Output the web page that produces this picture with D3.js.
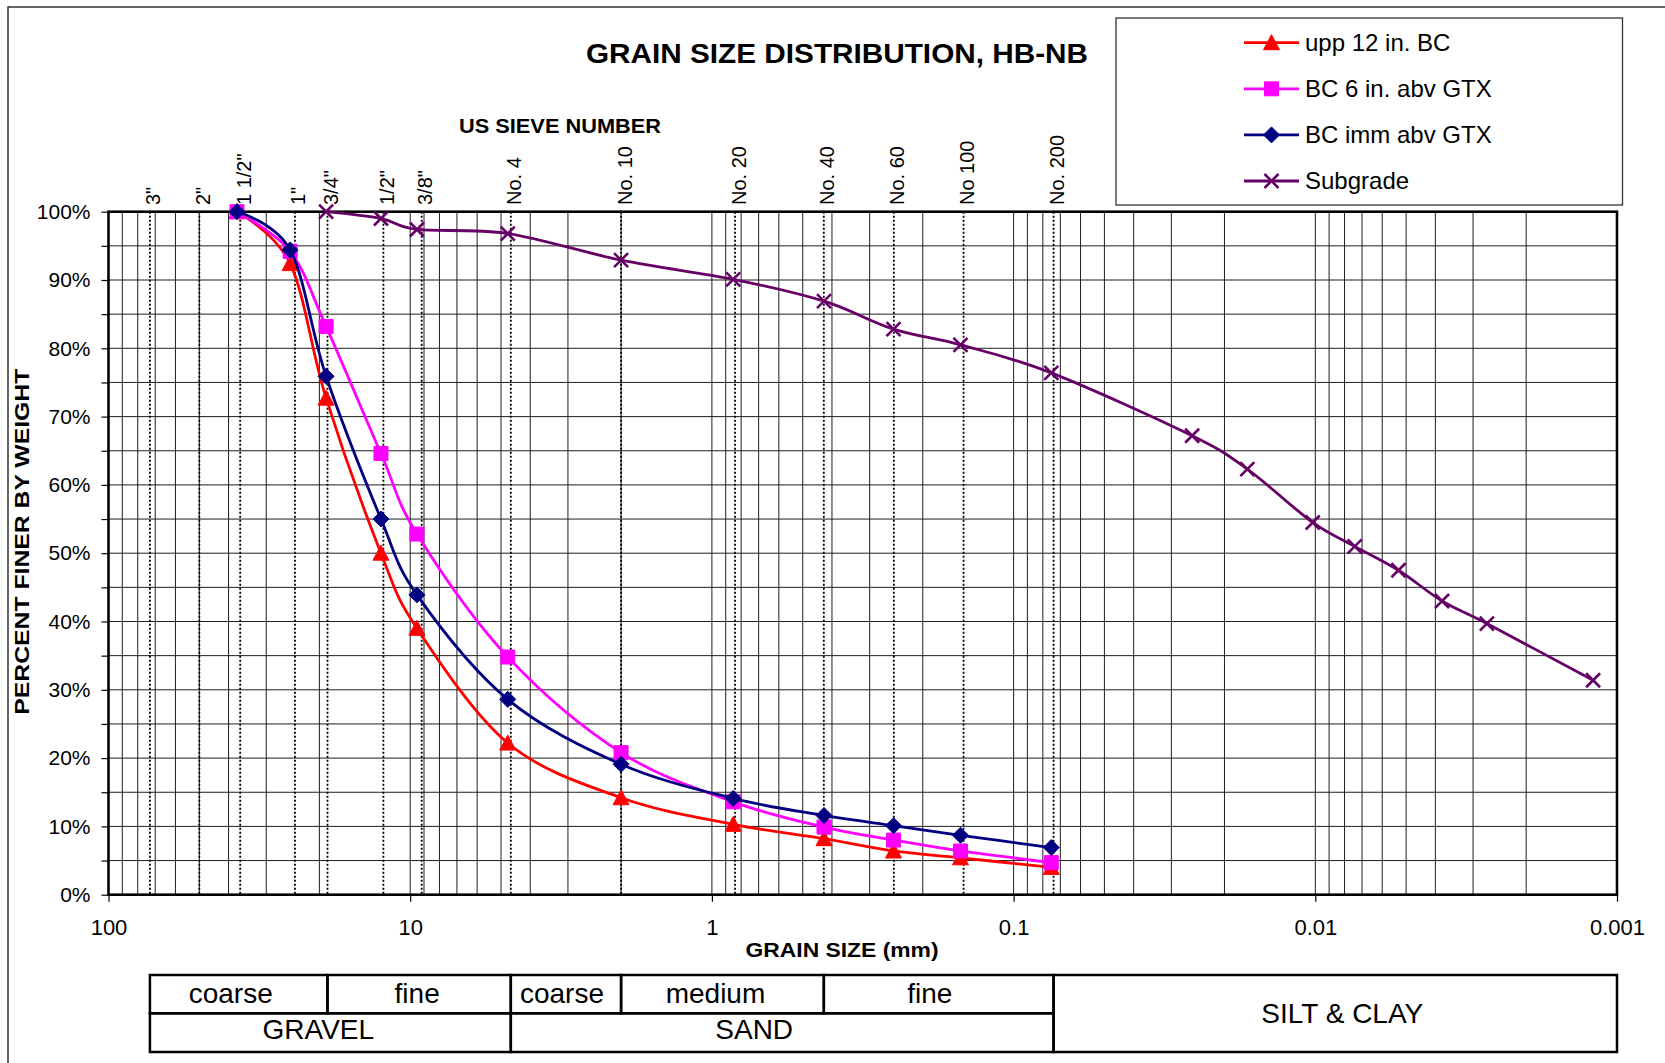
<!DOCTYPE html>
<html>
<head>
<meta charset="utf-8">
<script src="https://cdn.jsdelivr.net/npm/d3@7"></script>
<style>
  body { margin: 0; background: #fff; }
  svg { display: block; font-family: Arial, "Liberation Sans", sans-serif; }
</style>
</head>
<body>
<svg id="chart" width="1665" height="1063"></svg>
<script>
// ---- data -----------------------------------------------------------------
// sieve openings (mm) used for the base course samples
const sizesBC = [37.5, 25, 19, 12.5, 9.5, 4.75, 2.0, 0.85, 0.425, 0.25, 0.15, 0.075];
const upp12   = [100, 92.4, 72.7, 50.0, 39.0, 22.2, 14.2, 10.3, 8.2, 6.4, 5.4, 4.0];
const bc6     = [100, 94.2, 83.2, 64.6, 52.8, 34.8, 20.8, 13.6, 9.9, 8.0, 6.4, 4.7];
const bcImm   = [100, 94.4, 75.9, 55.0, 43.9, 28.6, 19.1, 14.1, 11.6, 10.1, 8.7, 6.9];

// subgrade: sieve analysis followed by hydrometer readings
const sizesSub = [19, 12.5, 9.5, 4.75, 2.0, 0.85, 0.425, 0.25, 0.15, 0.075,
                  0.0256, 0.0168, 0.0102, 0.0074, 0.0053, 0.0038, 0.0027, 0.0012];
const subgrade = [100, 99.0, 97.4, 96.8, 92.9, 90.1, 86.9, 82.8, 80.5, 76.4,
                  67.2, 62.3, 54.5, 51.0, 47.5, 43.0, 39.7, 31.4];

// US standard sieves marked along the top of the grid
const sieveLabels   = ['3"', '2"', '1 1/2"', '1"', '3/4"', '1/2"', '3/8"', 'No. 4', 'No. 10',
                       'No. 20', 'No. 40', 'No. 60', 'No 100', 'No. 200'];
const sieveOpenings = [72.9, 50, 36.6, 24.1, 18.8, 12.27, 9.16, 4.64, 2.0,
                       0.838, 0.4256, 0.2494, 0.1465, 0.0737];

const yTickValues = [0, 10, 20, 30, 40, 50, 60, 70, 80, 90, 100];
const xTickValues = [100, 10, 1, 0.1, 0.01, 0.001];
const xTickLabels = ['100', '10', '1', '0.1', '0.01', '0.001'];

// soil classification bands (grain size limits in mm)
const bandLabels = ['coarse', 'fine', 'coarse', 'medium', 'fine', 'GRAVEL', 'SAND', 'SILT & CLAY'];
const bandFrom   = [72.9, 18.8, 4.64, 2.0, 0.4256, 72.9, 4.64, 0.0737];
const bandTo     = [18.8, 4.64, 2.0, 0.4256, 0.0737, 4.64, 0.0737, 0.001];
const bandRow    = [0, 0, 0, 0, 0, 1, 1, 2];

const seriesNames = ['upp 12 in. BC', 'BC 6 in. abv GTX', 'BC imm abv GTX', 'Subgrade'];

// ---- layout ----------------------------------------------------------------
const W = 1665, H = 1063;
const plot = { left: 108.5, right: 1617, top: 211.7, bottom: 894.7 };
const FONT = 'Arial, "Liberation Sans", sans-serif';

const series = [
  { name: seriesNames[0], sizes: sizesBC,  values: upp12,    color: '#FF0000', marker: 'triangle' },
  { name: seriesNames[1], sizes: sizesBC,  values: bc6,      color: '#FF00FF', marker: 'square' },
  { name: seriesNames[2], sizes: sizesBC,  values: bcImm,    color: '#000080', marker: 'diamond' },
  { name: seriesNames[3], sizes: sizesSub, values: subgrade, color: '#660066', marker: 'cross' }
];

const markerPath = {
  triangle: 'M0,-8L8,7L-8,7Z',
  square:   'M-7,-7H7V7H-7Z',
  diamond:  'M0,-8L8,0L0,8L-8,0Z',
  cross:    'M-7,-7L7,7M7,-7L-7,7'
};

const svg = d3.select('#chart');
svg.append('rect').attr('width', W).attr('height', H).attr('fill', '#fff');

// outer frame of the sheet
svg.append('rect')
  .attr('x', 8).attr('y', 7).attr('width', W + 20).attr('height', H + 20)
  .attr('fill', 'none').attr('stroke', '#333').attr('stroke-width', 1.5);

const x = d3.scaleLog().domain([100, 0.001]).range([plot.left, plot.right]);
const y = d3.scaleLinear().domain([0, 100]).range([plot.bottom, plot.top]);

// ---- grid ------------------------------------------------------------------
const grid = svg.append('g').attr('stroke', '#1e1e1e').attr('stroke-width', 1);
grid.selectAll('line.v').data(x.ticks()).join('line')
  .attr('class', 'v')
  .attr('x1', d => x(d)).attr('x2', d => x(d))
  .attr('y1', plot.top).attr('y2', plot.bottom);
grid.selectAll('line.h').data(d3.range(0, 101, 5)).join('line')
  .attr('class', 'h')
  .attr('x1', plot.left).attr('x2', plot.right)
  .attr('y1', d => y(d)).attr('y2', d => y(d));

// dotted sieve guide lines
svg.append('g').selectAll('line').data(sieveOpenings).join('line')
  .attr('x1', d => x(d)).attr('x2', d => x(d))
  .attr('y1', plot.top).attr('y2', plot.bottom)
  .attr('stroke', '#000').attr('stroke-width', 1.8).attr('stroke-dasharray', '2 2');

// ---- axes ------------------------------------------------------------------
const yAxis = d3.axisLeft(y)
  .tickValues(d3.range(0, 101, 5))
  .tickSize(7).tickPadding(11)
  .tickFormat(d => yTickValues.includes(d) ? d + '%' : '');
svg.append('g')
  .attr('transform', `translate(${plot.left},0)`)
  .call(yAxis)
  .attr('font-size', 21).attr('font-family', FONT)
  .call(g => g.select('.domain').remove())
  .call(g => g.selectAll('line').attr('stroke', '#000').attr('stroke-width', 1.2))
  .call(g => g.selectAll('text').attr('fill', '#000'));

const xAxis = d3.axisBottom(x)
  .tickValues(xTickValues)
  .tickSize(7).tickPadding(18)
  .tickFormat((d, i) => xTickLabels[i]);
svg.append('g')
  .attr('transform', `translate(0,${plot.bottom})`)
  .call(xAxis)
  .attr('font-size', 22).attr('font-family', FONT)
  .call(g => g.select('.domain').remove())
  .call(g => g.selectAll('line').attr('stroke', '#000').attr('stroke-width', 1.2))
  .call(g => g.selectAll('text').attr('fill', '#000'));

// plot frame
svg.append('rect')
  .attr('x', plot.left).attr('y', plot.top)
  .attr('width', plot.right - plot.left).attr('height', plot.bottom - plot.top)
  .attr('fill', 'none').attr('stroke', '#000').attr('stroke-width', 2.6);

// ---- series ----------------------------------------------------------------
const line = d3.line()
  .x(d => x(d[0])).y(d => y(d[1]))
  .curve(d3.curveCatmullRom.alpha(0));

function drawMarker(sel, s) {
  if (s.marker === 'cross') {
    sel.attr('d', markerPath.cross).attr('fill', 'none')
      .attr('stroke', s.color).attr('stroke-width', 2.6);
  } else {
    sel.attr('d', markerPath[s.marker]).attr('fill', s.color)
      .attr('stroke', s.color).attr('stroke-width', 1);
  }
}

series.forEach(s => {
  const pts = s.sizes.map((v, i) => [v, s.values[i]]);
  const g = svg.append('g');
  g.append('path').attr('d', line(pts))
    .attr('fill', 'none').attr('stroke', s.color).attr('stroke-width', 2.8)
    .attr('stroke-linejoin', 'round');
  g.selectAll('path.m').data(pts).join('path')
    .attr('class', 'm')
    .attr('transform', d => `translate(${x(d[0])},${y(d[1])})`)
    .call(sel => drawMarker(sel, s));
});

// ---- sieve labels ------------------------------------------------------------
svg.append('g').selectAll('text').data(sieveLabels).join('text')
  .attr('transform', (d, i) => `translate(${x(sieveOpenings[i]) + 10.5},205) rotate(-90)`)
  .attr('font-size', 20).attr('font-family', FONT).attr('fill', '#000')
  .text(d => d);

// ---- titles ------------------------------------------------------------------
svg.append('text')
  .attr('x', 837).attr('y', 63).attr('text-anchor', 'middle')
  .attr('font-size', 28).attr('font-weight', 'bold').attr('font-family', FONT)
  .attr('textLength', 502).attr('lengthAdjust', 'spacingAndGlyphs')
  .text('GRAIN SIZE DISTRIBUTION, HB-NB');

svg.append('text')
  .attr('x', 560).attr('y', 132.5).attr('text-anchor', 'middle')
  .attr('font-size', 21).attr('font-weight', 'bold').attr('font-family', FONT)
  .attr('textLength', 202).attr('lengthAdjust', 'spacingAndGlyphs')
  .text('US SIEVE NUMBER');

svg.append('text')
  .attr('x', 842).attr('y', 957).attr('text-anchor', 'middle')
  .attr('font-size', 21).attr('font-weight', 'bold').attr('font-family', FONT)
  .attr('textLength', 193).attr('lengthAdjust', 'spacingAndGlyphs')
  .text('GRAIN SIZE (mm)');

svg.append('text')
  .attr('transform', `translate(29,${(plot.top + plot.bottom) / 2 - 11.5}) rotate(-90)`)
  .attr('text-anchor', 'middle')
  .attr('font-size', 21).attr('font-weight', 'bold').attr('font-family', FONT)
  .attr('textLength', 346).attr('lengthAdjust', 'spacingAndGlyphs')
  .text('PERCENT FINER BY WEIGHT');

// ---- legend ------------------------------------------------------------------
const legend = svg.append('g');
legend.append('rect')
  .attr('x', 1116).attr('y', 18).attr('width', 506.5).attr('height', 187)
  .attr('fill', '#fff').attr('stroke', '#333').attr('stroke-width', 1.3);
const items = legend.selectAll('g.item').data(series).join('g')
  .attr('class', 'item')
  .attr('transform', (d, i) => `translate(0,${42.7 + i * 46.1})`);
items.append('line')
  .attr('x1', 1244).attr('x2', 1299).attr('y1', 0).attr('y2', 0)
  .attr('stroke', d => d.color).attr('stroke-width', 2.8);
items.each(function (s) {
  d3.select(this).append('path')
    .attr('transform', 'translate(1271.5,0)')
    .call(sel => drawMarker(sel, s));
});
items.append('text')
  .attr('x', 1305).attr('y', 8)
  .attr('font-size', 24).attr('font-family', FONT).attr('fill', '#000')
  .text(d => d.name);

// ---- soil classification table -----------------------------------------------
const tbl = { top: 975, mid: 1013.3, bottom: 1052 };
const rowSpan = [[tbl.top, tbl.mid], [tbl.mid, tbl.bottom], [tbl.top, tbl.bottom]];
const rowBaseline = [1003, 1039, 1023];
const labelNudge = [-8, -2, -4, -7, -9, -12, -28, 7];
const table = svg.append('g');
bandLabels.forEach((lab, i) => {
  const x0 = x(bandFrom[i]), x1 = x(bandTo[i]);
  const [y0, y1] = rowSpan[bandRow[i]];
  table.append('rect')
    .attr('x', x0).attr('y', y0).attr('width', x1 - x0).attr('height', y1 - y0)
    .attr('fill', 'none').attr('stroke', '#000').attr('stroke-width', 2.5);
  table.append('text')
    .attr('x', (x0 + x1) / 2 + labelNudge[i]).attr('y', rowBaseline[bandRow[i]])
    .attr('text-anchor', 'middle')
    .attr('font-size', 28).attr('font-family', FONT).attr('fill', '#000')
    .text(lab);
});
</script>
</body>
</html>
